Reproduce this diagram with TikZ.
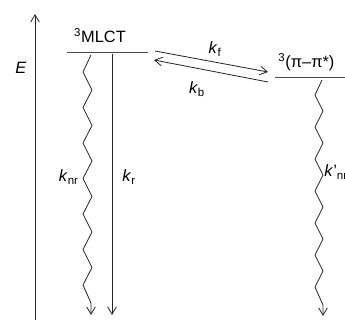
\documentclass[tikz,border=0pt]{standalone}
\usepackage{fontspec}
\setmainfont{Liberation Sans}
\usetikzlibrary{arrows.meta}

\begin{document}
\begin{tikzpicture}[x=0.03cm,y=-0.03cm,font=\fontsize{14}{16}\selectfont,
  level/.style={draw=black!70,line width=0.8pt},
  decay/.style={draw=black!85,line width=0.7pt,line join=miter,-{Straight Barb[length=2.2mm,width=2.6mm]}},
  lbl/.style={inner sep=1pt}]
\useasboundingbox (0,0) rectangle (345,320);
\clip (0,0) rectangle (345,320);
% energy axis
\coordinate (ebot) at (35,320);
\coordinate (etop) at (35,14);
\draw[decay] (ebot) -- (etop);
\node[lbl] (elab) at (21,68) {\textit{E}};
% levels
\coordinate (mlctL) at (67,52);
\coordinate (mlctR) at (148,52);
\coordinate (ppL) at (275,77);
\coordinate (ppR) at (360,77);
\draw[level] (mlctL) -- (mlctR);
\draw[level] (ppL) -- (ppR);
\node[lbl,anchor=base] (mlct) at (100,43) {\textsuperscript{3}MLCT};
\node[lbl,anchor=base west] (pp) at (277,68) {\textsuperscript{3}(π–π*)};
% decays from 3MLCT
\coordinate (nrtop) at (91,55);
\coordinate (nrbot) at (91,315);
\coordinate (rtop) at (112,54);
\coordinate (rbot) at (112,315);
\draw[decay] (nrtop) -- (83,72) -- (92,90) -- (83,107.5) -- (92,125.5) -- (83,143)
  -- (92,161) -- (83,178.5) -- (92,196.5) -- (83,214) -- (92,232) -- (83,249.5)
  -- (92,267.5) -- (83,285) -- (91,303) -- (nrbot);
\draw[decay] (rtop) -- (rbot);
\node[lbl,anchor=east] (knr) at (80,177) {\textit{k}\textsubscript{nr}};
\node[lbl,anchor=west] (kr) at (121,177) {\textit{k}\textsubscript{r}};
% decay from 3(pi-pi*)
\coordinate (pptop) at (322,80);
\coordinate (ppbot) at (323,316);
\draw[decay] (pptop) -- (315,95) -- (323,111) -- (315,127) -- (323,143) -- (315,159)
  -- (323,175) -- (315,191) -- (323,207) -- (315,223) -- (323,239) -- (315,255)
  -- (323,271) -- (315,287) -- (323,305) -- (ppbot);
\node[lbl,anchor=west] (knr2) at (323,172) {\textit{k}'\textsubscript{nr}};
% forward / back transfer
\coordinate (fA) at (155,51);
\coordinate (fB) at (268,72);
\coordinate (bA) at (268,82);
\coordinate (bB) at (154,60);
\draw[decay] (fA) -- (fB);
\draw[decay] (bA) -- (bB);
\node[lbl] (kf) at (215,49) {\textit{k}\textsubscript{f}};
\node[lbl] (kb) at (197,89) {\textit{k}\textsubscript{b}};
\end{tikzpicture}
\end{document}
